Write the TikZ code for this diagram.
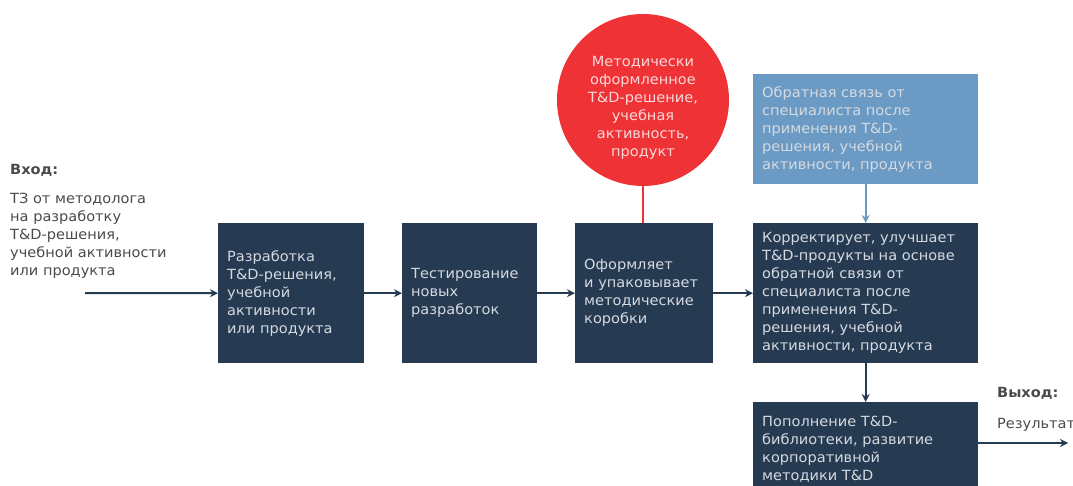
\documentclass[tikz,border=0pt]{standalone}
\usepackage{fontspec}
\setmainfont[FakeStretch=1.04]{DejaVu Sans}
\usetikzlibrary{arrows.meta}
\definecolor{navy}{HTML}{263A52}
\definecolor{fbblue}{HTML}{6B9BC4}
\definecolor{tdred}{HTML}{EE3236}
\definecolor{boxtext}{HTML}{D5DAE0}
\definecolor{circtext}{HTML}{FBD9D9}
\definecolor{graytext}{HTML}{4A4A4A}
\begin{document}
\begin{tikzpicture}[x=1pt,y=-1pt,
  txt/.style={font=\fontsize{14}{18}\selectfont},
  box/.style={txt, fill=navy, draw=none, text=boxtext, align=left, inner sep=9pt, anchor=north west, minimum height=#1},
  fbbox/.style={txt, fill=fbblue, draw=none, text=boxtext, align=left, inner sep=9pt, anchor=north west, minimum height=#1},
  flow/.style={draw=navy, line width=2pt, -{Stealth[length=8pt,width=8pt]}},
  lbl/.style={txt, text=graytext, align=left, inner sep=0pt}
]
\useasboundingbox (0,0) rectangle (1073,486);

% input
\node[lbl, font=\fontsize{14}{18}\selectfont\bfseries, anchor=west] (inhead) at (10,170) {Вход:};
\node[lbl, anchor=north west] (intext) at (10,193) {ТЗ от методолога\\на разработку\\T\&D-решения,\\учебной активности\\или продукта};
\coordinate (instart) at (85,293);

% boxes
\node[box=140pt, text width=128pt] (b1) at (218,223) {Разработка\\T\&D-решения,\\учебной\\активности\\или продукта};
\node[box=140pt, text width=117pt] (b2) at (402,223) {Тестирование\\новых\\разработок};
\node[box=140pt, text width=120pt] (b3) at (575,223) {Оформляет\\и упаковывает\\методические\\коробки};
\node[box=140pt, text width=207pt] (b4) at (753,223) {Корректирует, улучшает\\T\&D-продукты на основе\\обратной связи от\\специалиста после\\применения T\&D-\\решения, учебной\\активности, продукта};
\node[fbbox=110pt, text width=207pt] (fb) at (753,74) {Обратная связь от\\специалиста после\\применения T\&D-\\решения, учебной\\активности, продукта};
\node[box=95pt, text width=207pt] (b5) at (753,402) {Пополнение T\&D-\\библиотеки, развитие\\корпоративной\\методики T\&D};

% red circle
\node[circle, fill=tdred, draw=none, minimum size=172pt, inner sep=0pt, txt, text=circtext, align=center] (circ) at (643,100) {};
\node[txt, text=circtext, align=center, inner sep=0pt] (circtxt) at (643,108) {Методически\\оформленное\\T\&D-решение,\\учебная\\активность,\\продукт};

% output
\node[lbl, font=\fontsize{14}{18}\selectfont\bfseries, anchor=west] (outhead) at (997,393) {Выход:};
\node[lbl, anchor=west] (outtext) at (997,425) {Результат};
\coordinate (outend) at (1068,443);

% connectors
\draw[flow] (instart) -- (b1.west);
\draw[flow] (b1.east) -- (b2.west);
\draw[flow] (b2.east) -- (b3.west);
\draw[flow] (b3.east) -- (b4.west);
\draw[flow, draw=fbblue, -{Stealth[length=8pt,width=8pt]}] (fb.south) -- (b4.north);
\draw[flow] (b4.south) -- (b5.north);
\draw[draw=tdred, line width=2pt] (circ.south) -- (circ.south |- b3.north);
\draw[flow] (b5.east |- outend) -- (outend);
\end{tikzpicture}
\end{document}
